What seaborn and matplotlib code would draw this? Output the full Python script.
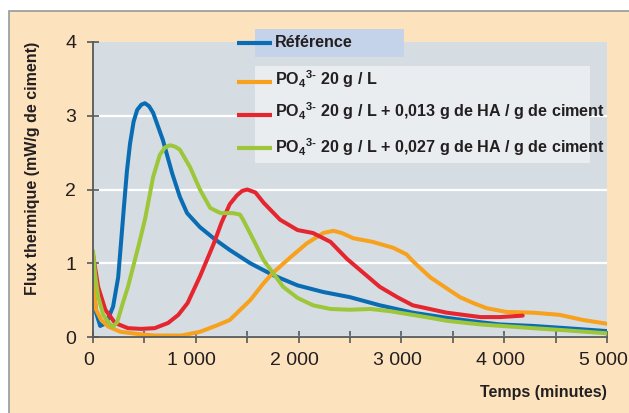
import matplotlib
matplotlib.use("Agg")
import matplotlib.pyplot as plt
import matplotlib.transforms as mtransforms
from matplotlib.patches import Rectangle
from matplotlib.lines import Line2D
import pandas as pd
import seaborn as sns

# Flux thermique (mW/g de ciment) en fonction du temps (minutes)
ref_t = [0, 30, 70, 130, 195, 245, 275, 300, 330, 360, 395, 430, 470, 505, 545, 585, 680,
         770, 845, 915, 1040, 1190, 1330, 1530, 1750, 1990, 2240, 2500, 2790, 3110, 3440,
         3770, 3960, 4280, 4600, 5000]
ref_flux = [0.73, 0.33, 0.15, 0.19, 0.41, 0.81, 1.32, 1.75, 2.25, 2.62, 2.92, 3.08, 3.15,
            3.17, 3.13, 3.04, 2.67, 2.22, 1.90, 1.68, 1.49, 1.32, 1.18, 1.00, 0.84, 0.70,
            0.61, 0.54, 0.43, 0.33, 0.26, 0.20, 0.17, 0.15, 0.12, 0.08]

po4_t = [0, 30, 80, 150, 270, 440, 600, 860, 1040, 1210, 1330, 1530, 1660, 1750, 1920,
         2080, 2240, 2340, 2420, 2500, 2530, 2720, 2920, 3050, 3110, 3280, 3440, 3570,
         3700, 3830, 4020, 4280, 4540, 4770, 5000]
po4_flux = [0.76, 0.37, 0.23, 0.14, 0.07, 0.04, 0.02, 0.02, 0.07, 0.16, 0.23, 0.50, 0.73,
            0.87, 1.08, 1.27, 1.41, 1.44, 1.41, 1.36, 1.34, 1.29, 1.21, 1.12, 1.03, 0.81,
            0.66, 0.54, 0.46, 0.39, 0.34, 0.33, 0.30, 0.23, 0.18]

ha013_t = [0, 50, 120, 215, 340, 470, 600, 730, 830, 920, 1040, 1170, 1250, 1330, 1400,
           1450, 1500, 1580, 1660, 1820, 1990, 2140, 2310, 2470, 2630, 2790, 2960, 3110,
           3440, 3770, 3960, 4180]
ha013_flux = [1.12, 0.68, 0.37, 0.19, 0.12, 0.11, 0.12, 0.19, 0.30, 0.46, 0.82, 1.25, 1.55,
              1.80, 1.92, 1.98, 2.00, 1.96, 1.82, 1.59, 1.45, 1.41, 1.29, 1.06, 0.87, 0.68,
              0.54, 0.43, 0.33, 0.27, 0.27, 0.29]

ha027_t = [0, 20, 50, 100, 160, 195, 235, 290, 340, 440, 505, 585, 650, 700, 750, 800, 845,
           945, 1040, 1140, 1240, 1360, 1430, 1460, 1560, 1660, 1750, 1850, 1990, 2140,
           2310, 2500, 2700, 2890, 3110, 3280, 3440, 3770, 4280, 4600, 5000]
ha027_flux = [1.17, 0.85, 0.55, 0.30, 0.18, 0.14, 0.20, 0.46, 0.68, 1.22, 1.59, 2.17, 2.47,
              2.57, 2.60, 2.58, 2.54, 2.30, 2.00, 1.75, 1.68, 1.68, 1.66, 1.59, 1.32, 1.04,
              0.87, 0.68, 0.53, 0.43, 0.38, 0.37, 0.38, 0.35, 0.30, 0.26, 0.22, 0.17, 0.12,
              0.09, 0.05]

labels = [
    "Référence",
    r"PO$_4{}^{3\text{-}}$ 20 g / L",
    r"PO$_4{}^{3\text{-}}$ 20 g / L + 0,013 g de HA / g de ciment",
    r"PO$_4{}^{3\text{-}}$ 20 g / L + 0,027 g de HA / g de ciment",
]
colors = ["#0A6DB3", "#F7A11D", "#E5262E", "#9EC63B"]

x_ticks = [0, 1000, 2000, 3000, 4000, 5000]
x_tick_labels = ["0", "1 000", "2 000", "3 000", "4 000", "5 000"]
y_ticks = [0, 1, 2, 3, 4]
y_tick_labels = ["0", "1", "2", "3", "4"]

sns.set_theme(style="ticks")
plt.rcParams["font.family"] = ["Liberation Sans", "DejaVu Sans"]
plt.rcParams["mathtext.fontset"] = "custom"
for key in ("rm", "it", "bf", "sf"):
    plt.rcParams[f"mathtext.{key}"] = "Liberation Sans:bold"

series = [(ref_t, ref_flux), (po4_t, po4_flux), (ha013_t, ha013_flux), (ha027_t, ha027_flux)]
df = pd.concat(
    [pd.DataFrame({"Temps": t, "Flux": f, "Essai": lab}) for (t, f), lab in zip(series, labels)],
    ignore_index=True,
)

W, H = 629, 413
fig = plt.figure(figsize=(W / 100, H / 100), dpi=100, facecolor="white")

# peach panel with a thin grey frame on its top and left edges
fig.add_artist(Rectangle((9 / W, -0.2), 1.5, 1 - 11 / H + 0.2, transform=fig.transFigure,
                         facecolor="#FDE2BE", edgecolor="#929B9E", lw=1.2, zorder=-2))

ax = fig.add_axes([93 / W, 76 / H, 514 / W, 295 / H])
ax.set_facecolor("#D5DDE3")

sns.lineplot(data=df, x="Temps", y="Flux", hue="Essai", hue_order=labels,
             palette=dict(zip(labels, colors)), estimator=None, sort=False,
             lw=2.9, legend=False, ax=ax)

ax.set_xlim(0, 5000)
ax.set_ylim(0, 4)
ax.set_xticks(x_ticks)
ax.set_xticklabels(x_tick_labels)
ax.set_xticks(range(500, 5000, 1000), minor=True)
ax.set_yticks(y_ticks)
ax.set_yticklabels(y_tick_labels)

ax.grid(axis="y", color="white", lw=1.6)
ax.grid(axis="x", visible=False)
ax.yaxis.get_gridlines()[-1].set_visible(False)
ax.set_axisbelow(True)

for side in ("top", "right"):
    ax.spines[side].set_visible(False)
for side in ("left", "bottom"):
    ax.spines[side].set_color("#54595B")
    ax.spines[side].set_linewidth(1.3)

ax.tick_params(axis="both", which="both", direction="inout", length=8, width=1.2,
               color="#54595B", labelcolor="#231F20", labelsize=14)
ax.tick_params(axis="x", which="both", pad=7)
ax.tick_params(axis="y", which="both", pad=8)

# x tick labels sit a few pixels left of their ticks
shift = mtransforms.ScaledTranslation(-4 / 100, 0, fig.dpi_scale_trans)
for lbl in ax.get_xticklabels():
    lbl.set_transform(lbl.get_transform() + shift)

ax.set_ylabel("Flux thermique (mW/g de ciment)", fontsize=11.5, fontweight="bold",
              color="#231F20")
ax.yaxis.set_label_coords((33 - 93) / 514, (337 - 168) / 295)
ax.yaxis.label.set_verticalalignment("center")

ax.set_xlabel("Temps (minutes)", fontsize=11.5, fontweight="bold", color="#231F20")
ax.xaxis.set_label_coords(1.0, (337 - 393) / 295)
ax.xaxis.label.set_horizontalalignment("right")
ax.xaxis.label.set_verticalalignment("center")

# legend panels
fig.add_artist(Rectangle((255 / W, 1 - 57 / H), 149 / W, 28 / H, transform=fig.transFigure,
                         facecolor="#C4D3EA", edgecolor="none", zorder=1))
fig.add_artist(Rectangle((255 / W, 1 - 163 / H), 335 / W, 97 / H, transform=fig.transFigure,
                         facecolor="#E9EDF0", edgecolor="none", zorder=1))

handle_y = [42.7, 81.7, 115, 148]
text_base = [47, 85.5, 117.5, 153]
for lab, col, hy, by in zip(labels, colors, handle_y, text_base):
    fig.add_artist(Line2D([237 / W, 272 / W], [1 - hy / H] * 2, transform=fig.transFigure,
                          color=col, lw=3.0, solid_capstyle="butt", zorder=2))
    fig.text(275 / W, 1 - by / H, lab, fontsize=11.6, fontweight="bold", color="#231F20",
             ha="left", va="baseline", zorder=3)

fig.savefig("out.png", dpi=100, facecolor=fig.get_facecolor())
